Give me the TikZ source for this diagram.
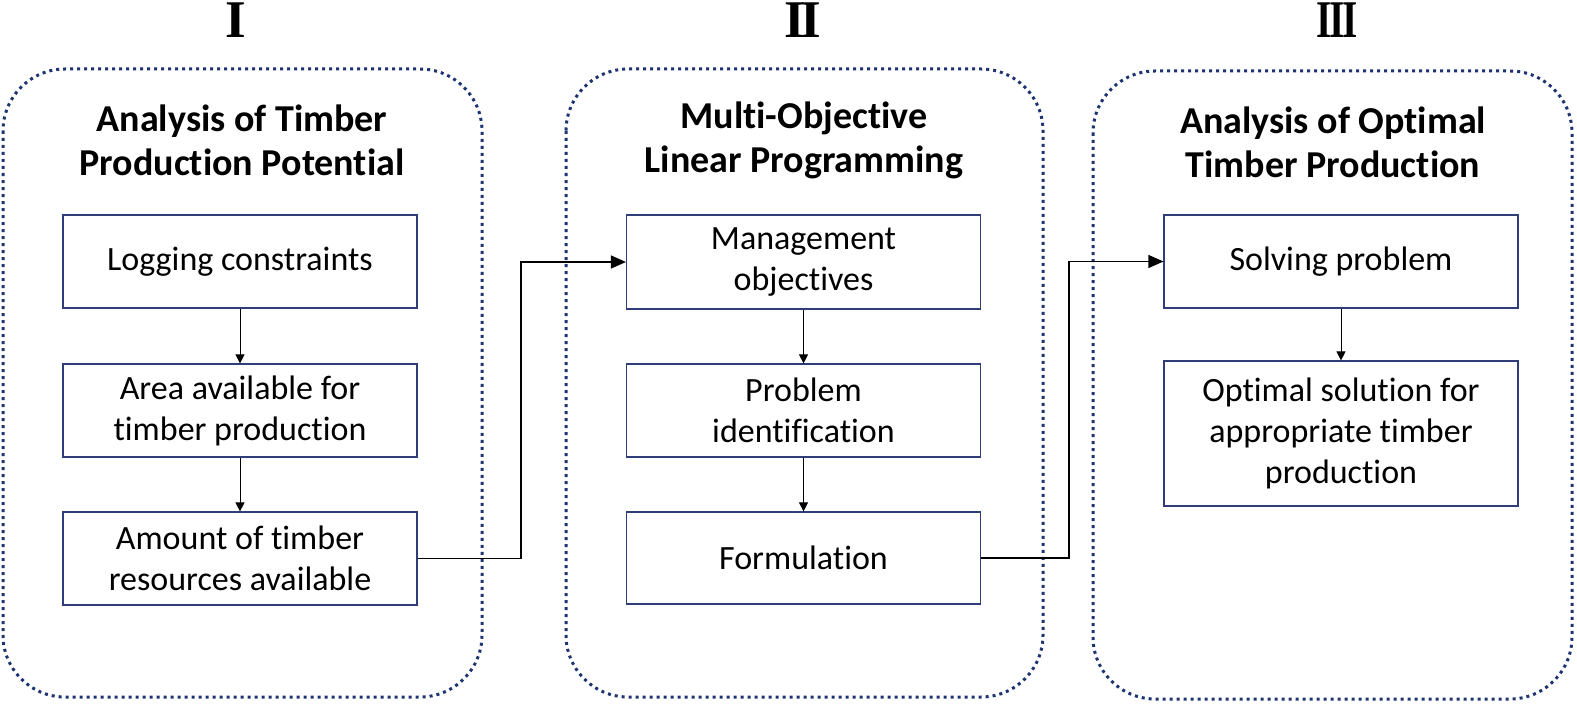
\documentclass[tikz,border=0pt]{standalone}
\usepackage{fontspec}
\setmainfont{Carlito}[Ligatures={NoCommon}]
\newfontfamily\romfont{Liberation Serif}
\usetikzlibrary{arrows.meta}
\definecolor{boxblue}{RGB}{47,62,120}
\definecolor{dotblue}{RGB}{30,52,112}
\tikzset{
  container/.style={draw=dotblue, line width=3pt, dash pattern=on 3pt off 4pt, rounded corners=62pt},
  stepbox/.style={draw=boxblue, line width=1.2pt, minimum width=354pt, align=center, inner sep=2pt,
    font=\fontsize{34}{41}\selectfont},
  titletext/.style={align=center, font=\fontsize{38}{44}\selectfont\bfseries},
  romtext/.style={font=\fontsize{53}{53}\romfont\bfseries, inner sep=0pt, anchor=base},
  smallarr/.style={-{Triangle[length=9pt,width=9pt]}, line width=1pt},
  bigarr/.style={-{Triangle[length=15pt,width=13pt]}, line width=1.2pt}
}
\begin{document}
\begin{tikzpicture}[x=1pt,y=-1pt]
\useasboundingbox (0,0) rectangle (1577,706);
% containers
\draw[container] (3,69) rectangle (482,697);
\draw[container] (566,69) rectangle (1043,697);
\draw[container] (1093,71) rectangle (1572,699);
% roman numerals
\node[romtext] (r1) at (236,38) {I};
\node[romtext] (r2) at (803,38) {I\kern-5pt I};
\node[romtext] (r3) at (1337,38) {\scalebox{0.74}[1]{I\kern-3pt I\kern-3pt I}};
% titles
\node[titletext] (t1) at (242,140) {Analysis of Timber\\Production Potential};
\node[titletext] (t2) at (804,140) {Multi-Objective\\Linear Programming};
\node[titletext] (t3) at (1333,142) {Analysis of Optimal\\Timber Production};
% boxes
\node[stepbox, minimum height=93pt] (a1) at (240,261.5) {Logging constraints};
\node[stepbox, minimum height=93pt] (a2) at (240,410.5) {Area available for\\timber production};
\node[stepbox, minimum height=93pt] (a3) at (240,558.5) {Amount of timber\\resources available};
\node[stepbox, minimum height=94pt] (b1) at (803.5,262) {Management\\objectives};
\node[stepbox, minimum height=93pt] (b2) at (803.5,410.5) {Problem\\identification};
\node[stepbox, minimum height=92pt] (b3) at (803.5,558) {Formulation};
\node[stepbox, minimum height=93pt] (c1) at (1341,261.5) {Solving problem};
\node[stepbox, minimum height=145pt] (c2) at (1341,433.5) {Optimal solution for\\appropriate timber\\production};
% vertical arrows
\draw[smallarr] (a1.south) -- (a2.north);
\draw[smallarr] (a2.south) -- (a3.north);
\draw[smallarr] (b1.south) -- (b2.north);
\draw[smallarr] (b2.south) -- (b3.north);
\draw[smallarr] (c1.south) -- (c2.north);
% cross-column connectors
\coordinate (k1) at (521,0);
\coordinate (k2) at (1069,0);
\draw[bigarr] (a3.east) -- (a3.east -| k1) |- (b1.west);
\draw[bigarr] (b3.east) -- (b3.east -| k2) |- (c1.west);
\end{tikzpicture}
\end{document}
